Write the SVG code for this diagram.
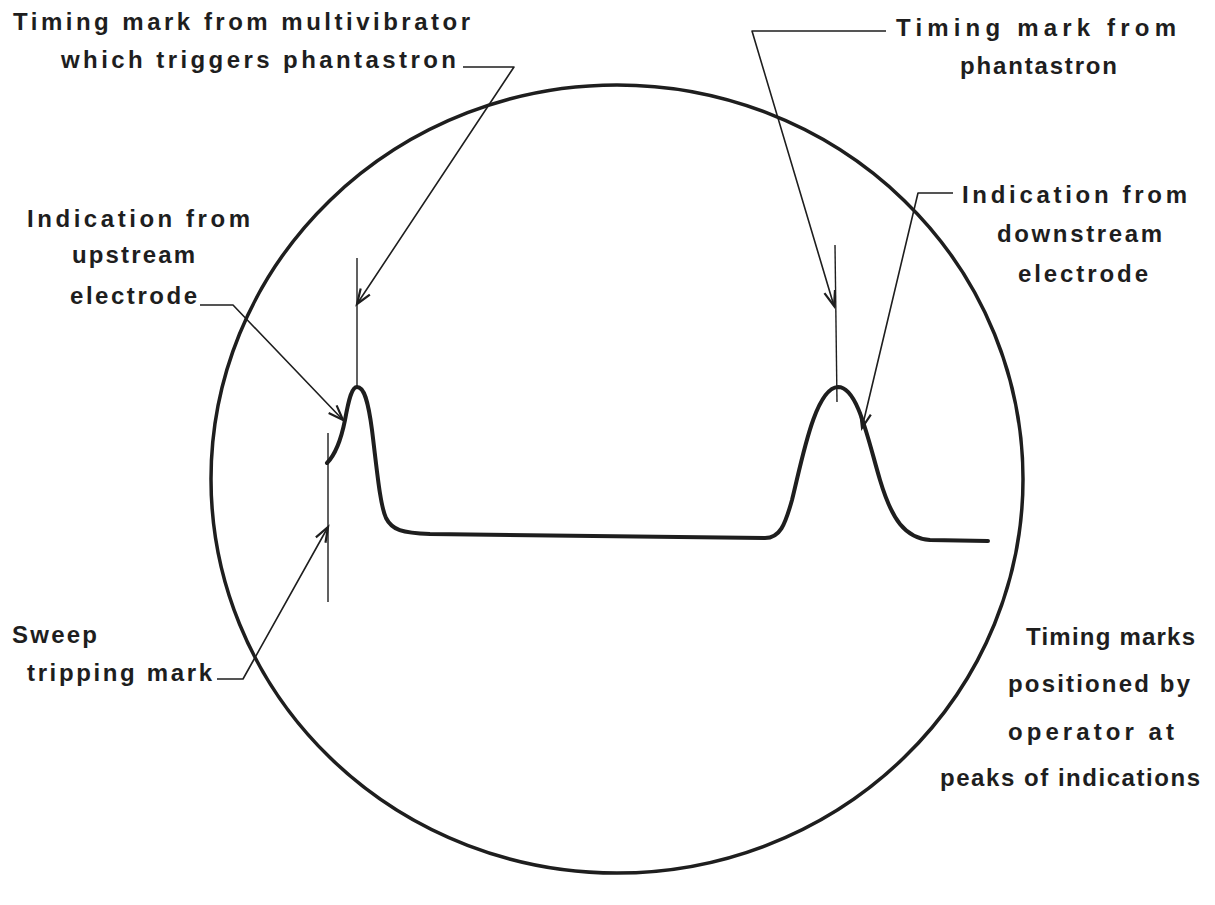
<svg xmlns="http://www.w3.org/2000/svg" width="1215" height="905" viewBox="0 0 1215 905">
<style>
.lbl{font-family:"Liberation Sans",Arial,sans-serif;font-size:24px;font-weight:bold;fill:#1e1e1e}
.lead{fill:none;stroke:#1e1e1e;stroke-width:1.6;stroke-linejoin:round}
.mark{fill:none;stroke:#1e1e1e;stroke-width:1.4}
.trace{fill:none;stroke:#1e1e1e;stroke-width:4;stroke-linecap:round;stroke-linejoin:round}
.screen{fill:none;stroke:#1e1e1e;stroke-width:3.5}
</style>
<defs>
<marker id="arr" markerUnits="userSpaceOnUse" markerWidth="24" markerHeight="16" refX="0" refY="0" viewBox="-20 -8 24 16" orient="auto">
<path d="M -15 -5.5 L 0 0 L -15 5.5" fill="none" stroke="#1e1e1e" stroke-width="2.2" stroke-linejoin="miter"/>
</marker>
</defs>
<rect width="1215" height="905" fill="#ffffff"/>
<g id="screen">
<ellipse class="screen" cx="617" cy="479" rx="406" ry="394"/>
</g>
<g id="trace">
<path class="trace" d="M 327 463 C 335 455 341 440 345 420 C 349 398 352 387 357 387 C 364 387 368 400 372 430 C 377 470 380 505 386 518 C 392 530 402 533 430 534 L 765 538 C 780 538 785 525 792 500 C 802 460 815 388 838 387 C 858 387 868 440 880 480 C 892 520 905 538 930 540 L 988 541"/>
</g>
<g id="marks">
<line class="mark" x1="357" y1="258" x2="357" y2="388"/>
<line class="mark" x1="328" y1="433" x2="328" y2="602"/>
<line class="mark" x1="835" y1="245" x2="837" y2="402"/>
</g>
<g id="connectors">
<path class="lead" d="M 463 67 L 514 67 L 357 304" marker-end="url(#arr)"/>
<path class="lead" d="M 886 31 L 752 31 L 834 306" marker-end="url(#arr)"/>
<path class="lead" d="M 200 305 L 233 305 L 343 420" marker-end="url(#arr)"/>
<path class="lead" d="M 953 193 L 918 193 L 862 428" marker-end="url(#arr)"/>
<path class="lead" d="M 217 679 L 243 679 L 328 527" marker-end="url(#arr)"/>
</g>
<g id="label-multivibrator">
<text class="lbl" x="13" y="30" textLength="457" lengthAdjust="spacing">Timing mark from multivibrator</text>
<text class="lbl" x="61" y="68" textLength="395" lengthAdjust="spacing">which triggers phantastron</text>
</g>
<g id="label-phantastron">
<text class="lbl" x="896" y="36" textLength="280" lengthAdjust="spacing">Timing mark from</text>
<text class="lbl" x="960" y="74" textLength="157" lengthAdjust="spacing">phantastron</text>
</g>
<g id="label-upstream">
<text class="lbl" x="27" y="227" textLength="223" lengthAdjust="spacing">Indication from</text>
<text class="lbl" x="72" y="263" textLength="123" lengthAdjust="spacing">upstream</text>
<text class="lbl" x="70" y="304" textLength="127" lengthAdjust="spacing">electrode</text>
</g>
<g id="label-downstream">
<text class="lbl" x="962" y="203" textLength="225" lengthAdjust="spacing">Indication from</text>
<text class="lbl" x="997" y="242" textLength="165" lengthAdjust="spacing">downstream</text>
<text class="lbl" x="1018" y="282" textLength="130" lengthAdjust="spacing">electrode</text>
</g>
<g id="label-sweep">
<text class="lbl" x="12" y="643" textLength="85" lengthAdjust="spacing">Sweep</text>
<text class="lbl" x="27" y="681" textLength="185" lengthAdjust="spacing">tripping mark</text>
</g>
<g id="label-operator">
<text class="lbl" x="1026" y="645" textLength="169" lengthAdjust="spacing">Timing marks</text>
<text class="lbl" x="1008" y="692" textLength="182" lengthAdjust="spacing">positioned by</text>
<text class="lbl" x="1008" y="740" textLength="166" lengthAdjust="spacing">operator at</text>
<text class="lbl" x="940" y="786" textLength="260" lengthAdjust="spacing">peaks of indications</text>
</g>
</svg>
